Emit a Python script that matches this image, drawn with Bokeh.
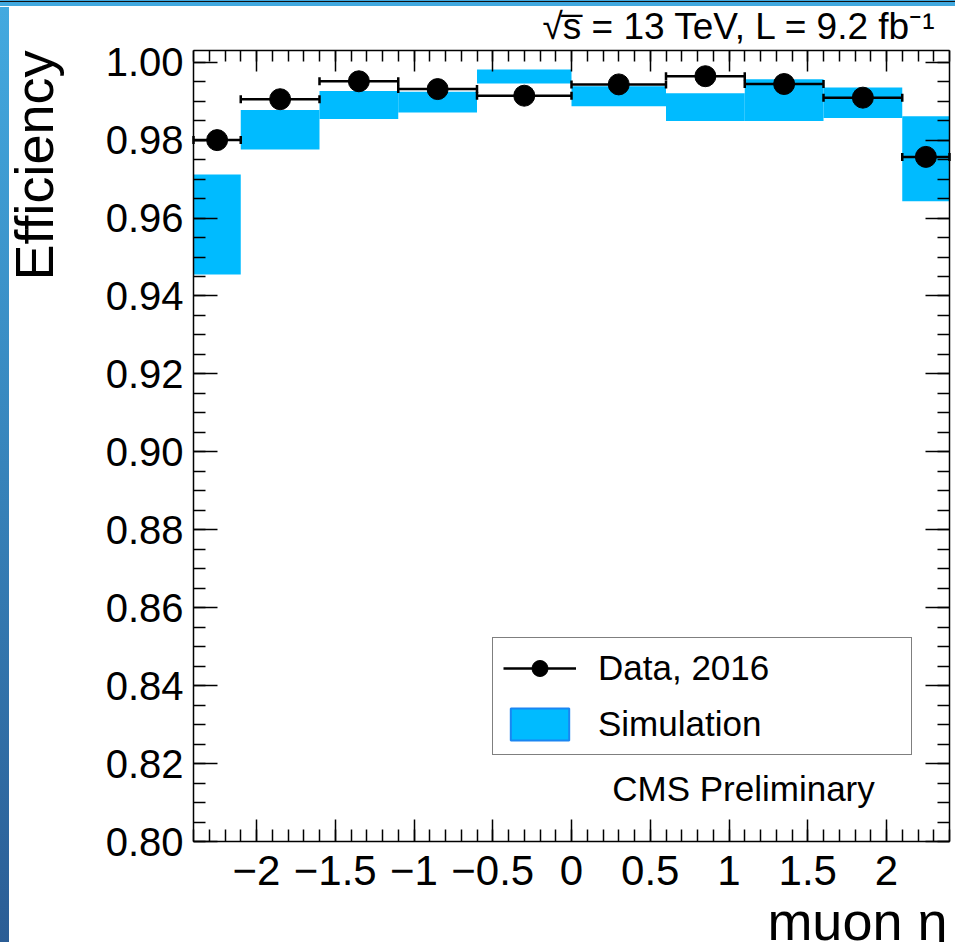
import math

from bokeh.plotting import figure
from bokeh.models import (ColumnDataSource, FixedTicker, LinearAxis, Legend,
                          LegendItem, Label, Range1d, CustomLabelingPolicy)
from bokeh.embed import file_html
from bokeh.resources import INLINE

# ---- muon trigger efficiency versus eta -------------------------------------
eta_edges = [-2.4, -2.1, -1.6, -1.1, -0.6, 0.0, 0.6, 1.1, 1.6, 2.1, 2.4]
data_eff = [0.9800, 0.9905, 0.9951, 0.9931, 0.9914,
            0.9943, 0.9964, 0.9944, 0.9909, 0.9757]
sim_low = [0.9455, 0.9776, 0.9854, 0.9871, 0.9945,
           0.9887, 0.9849, 0.9849, 0.9857, 0.9643]
sim_high = [0.9712, 0.9877, 0.9926, 0.9924, 0.9981,
            0.9938, 0.9920, 0.9956, 0.9935, 0.9861]

x_tick_values = [-2, -1.5, -1, -0.5, 0, 0.5, 1, 1.5, 2]
x_tick_labels = ["\u22122", "\u22121.5", "\u22121", "\u22120.5", "0",
                 "0.5", "1", "1.5", "2"]
y_tick_values = [0.80, 0.82, 0.84, 0.86, 0.88, 0.90,
                 0.92, 0.94, 0.96, 0.98, 1.00]
y_tick_labels = ["0.80", "0.82", "0.84", "0.86", "0.88", "0.90",
                 "0.92", "0.94", "0.96", "0.98", "1.00"]

# axis box of the histogram (data units) and where it sits on the canvas
X_MIN, X_MAX = -2.4, 2.4
Y_MIN, Y_MAX = 0.80, 1.003
W, H = 955, 942
BOX_L, BOX_R, BOX_T, BOX_B = 193, 949, 50, 841

FONT = "Liberation Sans"
SIM_FILL = "#00bbff"
SIM_EDGE = "#1a86f2"


def px_x(px):
    """Canvas pixel column -> data x."""
    return X_MIN + (px - BOX_L) * (X_MAX - X_MIN) / (BOX_R - BOX_L)


def px_y(py):
    """Canvas pixel row -> data y."""
    return Y_MIN + (BOX_B - py) * (Y_MAX - Y_MIN) / (BOX_B - BOX_T)


lo = eta_edges[:-1]
hi = eta_edges[1:]
mid = [(a + b) / 2 for a, b in zip(lo, hi)]

src = ColumnDataSource(dict(lo=lo, hi=hi, mid=mid, eff=data_eff,
                            sim_low=sim_low, sim_high=sim_high))
caps = ColumnDataSource(dict(x=lo + hi, y=data_eff + data_eff))
nan = float("nan")
swatch_src = ColumnDataSource(dict(l=[nan], r=[nan], b=[nan], t=[nan]))

# the plotting frame fills the whole canvas; the axes are pinned to the box
p = figure(width=W, height=H, output_backend="svg", toolbar_location=None,
           x_range=Range1d(px_x(0), px_x(W)), y_range=Range1d(px_y(H), px_y(0)),
           min_border_left=0, min_border_right=0,
           min_border_top=0, min_border_bottom=0,
           background_fill_color=None, border_fill_color=None,
           outline_line_color=None)

# page frame: blue strips along the top and left edges
p.styles = {
    "background": (
        "linear-gradient(to bottom, #41a8df 0px, #41a8df 1px, #111111 1px, "
        "#111111 2px, #41a8df 2px, #41a8df 6px, #ffffff 6px) "
        "top left / 100% 7px no-repeat, "
        "linear-gradient(to bottom, #43aae0, #2b5d95) "
        "top left / 9px 100% no-repeat, #ffffff"
    )
}

p.xgrid.visible = False
p.ygrid.visible = False

# simulation bands
p.quad(left="lo", right="hi", bottom="sim_low", top="sim_high", source=src,
       fill_color=SIM_FILL, line_color=None)
# legend-only swatch (its single row is NaN, so nothing is drawn in the plot)
sim_swatch = p.quad(left="l", right="r", bottom="b", top="t", source=swatch_src,
                    fill_color=SIM_FILL, line_color=SIM_EDGE, line_width=2)

# data: horizontal bin-width bars, end caps, markers
bars = p.segment(x0="lo", x1="hi", y0="eff", y1="eff", source=src,
                 line_color="black", line_width=2.5)
p.scatter(x="x", y="y", source=caps, marker="dash", angle=math.pi / 2,
          size=8, line_color="black", line_width=2.5)
pts = p.scatter(x="mid", y="eff", source=src, size=21,
                fill_color="black", line_color="black")

# ---- axes -----------------------------------------------------------------
x_minor = [round(-2.4 + 0.1 * i, 1) for i in range(49)]
y_minor = [round(0.80 + 0.005 * i, 3) for i in range(41)]

no_labels = CustomLabelingPolicy(code="""
    const ids = [...indices]
    for (const i of ids) indices.unset(i)
    return indices
""")


def style_axis(ax, ticker, bounds, where, major_len, minor_len, labels):
    ax.ticker = ticker
    ax.bounds = bounds
    ax.fixed_location = where
    ax.axis_line_color = "black"
    ax.axis_line_width = 1.5
    ax.major_tick_line_color = "black"
    ax.major_tick_line_width = 1.5
    ax.minor_tick_line_color = "black"
    ax.minor_tick_line_width = 1.5
    ax.major_tick_in = major_len
    ax.major_tick_out = 0
    ax.minor_tick_in = minor_len
    ax.minor_tick_out = 0
    if labels is None:
        ax.major_label_text_font_size = "0px"
        ax.major_label_standoff = 0
        ax.major_label_policy = no_labels
    else:
        ax.major_label_overrides = labels
        ax.major_label_text_font = FONT
        ax.major_label_text_color = "black"


x_labels = {v: t for v, t in zip(x_tick_values, x_tick_labels)}
y_labels = {v: t for v, t in zip(y_tick_values, y_tick_labels)}

xax = p.xaxis[0]
style_axis(xax, FixedTicker(ticks=x_tick_values, minor_ticks=x_minor),
           (X_MIN, X_MAX), Y_MIN, 22, 12, x_labels)
xax.major_label_text_font_size = "42px"
xax.major_label_standoff = 14

yax = p.yaxis[0]
style_axis(yax, FixedTicker(ticks=y_tick_values, minor_ticks=y_minor),
           (Y_MIN, Y_MAX), X_MIN, 24, 12, y_labels)
yax.major_label_text_font_size = "40px"
yax.major_label_standoff = 10

top_axis = LinearAxis()
style_axis(top_axis, FixedTicker(ticks=x_tick_values, minor_ticks=x_minor),
           (X_MIN, X_MAX), Y_MAX, 21, 11, None)
p.add_layout(top_axis, "above")

right_axis = LinearAxis()
style_axis(right_axis, FixedTicker(ticks=y_tick_values, minor_ticks=y_minor),
           (Y_MIN, Y_MAX), X_MAX, 24, 12, None)
p.add_layout(right_axis, "right")

# ---- legend ---------------------------------------------------------------
legend = Legend(items=[LegendItem(label="Data, 2016", renderers=[bars, pts]),
                       LegendItem(label="Simulation", renderers=[sim_swatch])],
                location=(492, H - 755), margin=0, padding=10, spacing=16,
                glyph_width=73, glyph_height=40, label_height=40,
                label_standoff=22, label_width=303,
                label_text_font=FONT, label_text_font_size="35px",
                label_text_color="black",
                border_line_color="black", border_line_width=1.5,
                background_fill_color="white", background_fill_alpha=1.0)
p.add_layout(legend)

# ---- text -----------------------------------------------------------------
p.add_layout(Label(x=px_x(33), y=px_y(50), text="Efficiency", angle=math.pi / 2,
                   text_align="right", text_baseline="alphabetic",
                   text_font=FONT, text_font_size="54px", text_color="black"))
p.add_layout(Label(x=px_x(947), y=px_y(920), text="muon \u03b7",
                   text_align="right", text_baseline="alphabetic",
                   text_font=FONT, text_font_size="54px", text_color="black"))
p.add_layout(Label(x=px_x(936), y=px_y(26),
                   text="\u221as\u0305 = 13 TeV, L = 9.2 fb\u207b\u00b9",
                   text_align="right", text_baseline="alphabetic",
                   text_font=FONT, text_font_size="37px", text_color="black"))
p.add_layout(Label(x=px_x(743), y=px_y(788), text="CMS Preliminary",
                   text_align="center", text_baseline="alphabetic",
                   text_font=FONT, text_font_size="35px", text_color="black"))

open("out.html", "w").write(file_html(p, INLINE))
